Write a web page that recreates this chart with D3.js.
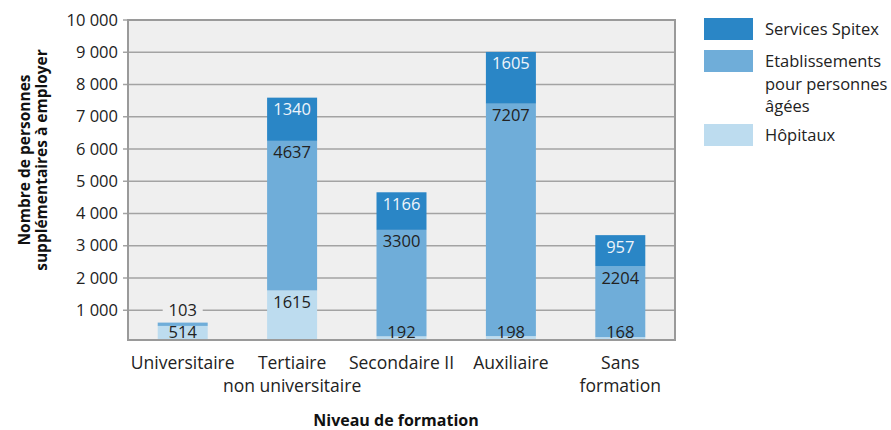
<!DOCTYPE html>
<html>
<head>
<meta charset="utf-8">
<script src="https://cdn.jsdelivr.net/npm/d3@7"></script>
<style>
  body { margin: 0; background: #fff; }
  svg { font-family: "Open Sans", sans-serif; }
</style>
</head>
<body>
<svg id="chart" width="891" height="430"></svg>
<script>
const categories = [["Universitaire"], ["Tertiaire", "non universitaire"], ["Secondaire II"], ["Auxiliaire"], ["Sans", "formation"]];
const seriesNames = ["Hôpitaux", "Etablissements pour personnes âgées", "Services Spitex"];
const hopitaux = [514, 1615, 192, 198, 168];
const etablissements = [103, 4637, 3300, 7207, 2204];
const spitex = [0, 1340, 1166, 1605, 957];
const yTicks = [1000, 2000, 3000, 4000, 5000, 6000, 7000, 8000, 9000, 10000];

const colors = ["#bddcef", "#6fadd9", "#2a86c6"];
const legendLines = [["Services Spitex"], ["Etablissements", "pour personnes", "âgées"], ["Hôpitaux"]];

const svg = d3.select("#chart");
const margin = { left: 128, right: 216, top: 20, bottom: 90 };
const W = 891, H = 430;
const frameBottom = 340;
const plotBottom = 342.5;

const x = d3.scaleBand()
  .domain(d3.range(categories.length))
  .range([margin.left, W - margin.right])
  .paddingInner(0.543)
  .paddingOuter(0.2715);

const y = d3.scaleLinear().domain([0, 10000]).range([plotBottom, margin.top]);

const loc = d3.formatLocale({ decimal: ",", thousands: " ", grouping: [3], currency: ["", ""] });
const fmt = loc.format(",d");

svg.append("defs").append("clipPath").attr("id", "plotclip")
  .append("rect")
  .attr("x", margin.left).attr("y", margin.top)
  .attr("width", W - margin.right - margin.left)
  .attr("height", frameBottom - margin.top);

// plot background
svg.append("rect")
  .attr("x", margin.left).attr("y", margin.top)
  .attr("width", W - margin.right - margin.left)
  .attr("height", frameBottom - margin.top)
  .attr("fill", "#efefef");

// grid
svg.append("g").selectAll("line").data(yTicks).join("line")
  .attr("x1", margin.left - 5).attr("x2", W - margin.right)
  .attr("y1", d => y(d)).attr("y2", d => y(d))
  .attr("stroke", "#a3a3a3").attr("stroke-width", 1.3);

svg.append("g").selectAll("text").data(yTicks).join("text")
  .attr("x", 118).attr("y", d => y(d) + 5.5)
  .attr("text-anchor", "end")
  .attr("font-size", 16.5).attr("fill", "#222")
  .text(d => fmt(d));

// stacked bars
const rows = categories.map((c, i) => ({ i, h: hopitaux[i], e: etablissements[i], s: spitex[i] }));
const stack = d3.stack().keys(["h", "e", "s"])(rows);

const layers = svg.append("g").attr("clip-path", "url(#plotclip)")
  .selectAll("g").data(stack).join("g")
  .attr("fill", (d, k) => colors[k]);

layers.selectAll("rect").data(d => d).join("rect")
  .attr("x", d => x(d.data.i))
  .attr("width", x.bandwidth())
  .attr("y", d => y(d[1]))
  .attr("height", d => y(d[0]) - y(d[1]));

// value labels
stack.forEach((layer, k) => {
  layer.forEach(d => {
    const v = d[1] - d[0];
    if (!v) return;
    const top = y(d[1]);
    const hgt = y(d[0]) - top;
    const cx = x(d.data.i) + x.bandwidth() / 2;
    let by;
    let outside = false;
    if (k > 0 && hgt < 14) { by = top - 7; outside = true; }
    else by = Math.min(top + 17.5, 337.5);
    if (outside) {
      svg.append("rect")
        .attr("x", cx - 20).attr("y", by - 13)
        .attr("width", 40).attr("height", 16)
        .attr("fill", "#efefef");
    }
    svg.append("text")
      .attr("x", cx).attr("y", by)
      .attr("text-anchor", "middle")
      .attr("font-size", 16.5)
      .attr("fill", k === 2 && !outside ? "#eef4fa" : "#222")
      .text(v);
  });
});

// frame
svg.append("rect")
  .attr("x", margin.left).attr("y", margin.top)
  .attr("width", W - margin.right - margin.left)
  .attr("height", frameBottom - margin.top)
  .attr("fill", "none").attr("stroke", "#9a9a9a").attr("stroke-width", 2);

// category labels
const catG = svg.append("g").selectAll("text").data(categories).join("text")
  .attr("text-anchor", "middle")
  .attr("font-size", 17.5).attr("fill", "#222");
catG.each(function(lines, i) {
  d3.select(this).selectAll("tspan").data(lines).join("tspan")
    .attr("x", x(i) + x.bandwidth() / 2)
    .attr("y", (l, j) => 369 + j * 22.5)
    .text(l => l);
});

// axis titles
svg.append("text")
  .attr("x", 396).attr("y", 426)
  .attr("text-anchor", "middle")
  .attr("font-size", 16).attr("font-weight", "bold").attr("fill", "#111")
  .text("Niveau de formation");

const yt = svg.append("text")
  .attr("transform", "translate(0,160) rotate(-90)")
  .attr("text-anchor", "middle")
  .attr("font-size", 15.5).attr("font-weight", "bold").attr("fill", "#111");
yt.append("tspan").attr("x", 0).attr("y", 30).text("Nombre de personnes");
yt.append("tspan").attr("x", 0).attr("y", 47).text("supplémentaires à employer");

// legend
const legendY = [18, 50, 124];
const legendColors = [colors[2], colors[1], colors[0]];
legendLines.forEach((lines, k) => {
  svg.append("rect")
    .attr("x", 704).attr("y", legendY[k])
    .attr("width", 49).attr("height", 22)
    .attr("fill", legendColors[k]);
  const t = svg.append("text").attr("font-size", 16.5).attr("fill", "#222");
  lines.forEach((l, j) => {
    t.append("tspan").attr("x", 765).attr("y", legendY[k] + 17 + j * 22.5).text(l);
  });
});
</script>
</body>
</html>
